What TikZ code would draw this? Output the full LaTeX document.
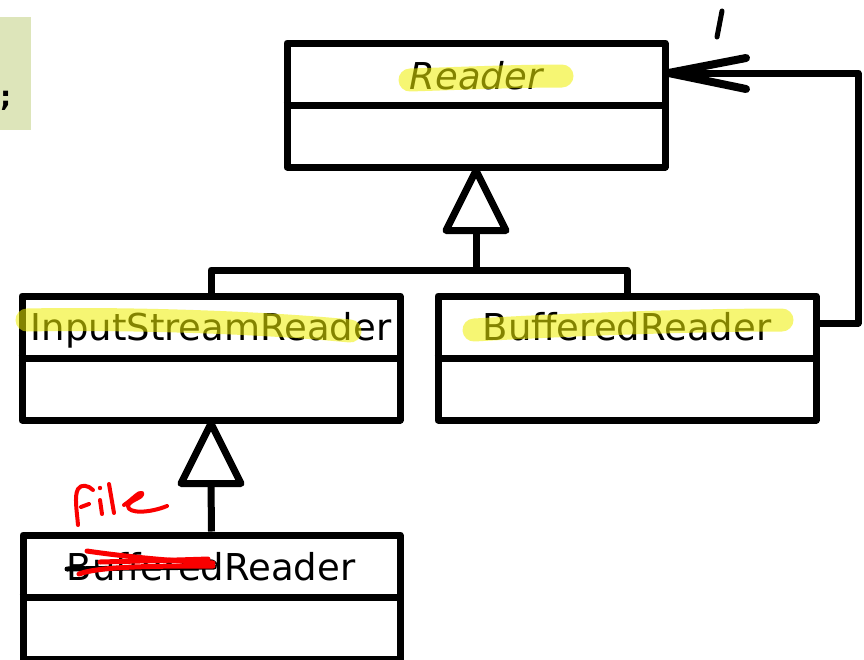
\documentclass[tikz,border=0pt]{standalone}
\usepackage{fontspec}
\setmainfont{DejaVu Sans}
\usetikzlibrary{calc}
\definecolor{hlyellow}{RGB}{240,240,0}
\definecolor{notegreen}{RGB}{221,229,186}
\definecolor{penred}{RGB}{250,0,0}
\begin{document}
\begin{tikzpicture}[x=1pt,y=-1pt,line join=round,
  classbox/.style={draw,line width=7pt,minimum width=378pt,minimum height=124pt,inner sep=0pt,fill=white},
  cname/.style={anchor=base,inner sep=0pt,font=\fontsize{37}{44}\selectfont},
  conn/.style={line width=7pt},
  hilite/.style={draw=hlyellow,draw opacity=0.55,line width=23pt,line cap=round},
  pen/.style={draw=penred,line width=4pt,line cap=round},
  scribble/.style={draw=penred,line width=5pt,line cap=round}]
\useasboundingbox (0,0) rectangle (864,659);
% note box at left
\fill[notegreen] (-10,17) rectangle (31,130);
\node[anchor=base west,inner sep=0pt,font=\fontsize{28}{32}\selectfont\bfseries] (semi) at (0,106) {;};
% classes
\node[classbox] (reader) at (476,105) {};
\node[classbox] (isr) at (211,358) {};
\node[classbox] (br) at (627,358) {};
\node[classbox,minimum width=377pt] (fr) at (211.5,597) {};
\draw[conn] (reader.west) -- (reader.east);
\draw[conn] (isr.west) -- (isr.east);
\draw[conn] (br.west) -- (br.east);
\draw[conn] (fr.west) -- (fr.east);
\node[cname,font=\fontsize{37}{44}\selectfont\itshape] (readert) at (476,89) {Reader};
\node[cname] (isrt) at (211,340) {InputStreamReader};
\node[cname] (brt) at (627,340) {BufferedReader};
\node[cname] (frt) at (211,580) {BufferedReader};
% inheritance to Reader
\coordinate (t1) at ($(reader.south)+(0,60)$);
\coordinate (j1) at (476,270);
\draw[conn,fill=white] (reader.south) -- ($(t1)+(30,0)$) -- ($(t1)+(-30,0)$) -- cycle;
\draw[conn] (t1) -- (j1);
\draw[conn] (isr.north) |- (j1) -| (br.north);
% inheritance to InputStreamReader
\coordinate (t2) at ($(isr.south)+(0,60)$);
\draw[conn,fill=white] (isr.south) -- ($(t2)+(30,0)$) -- ($(t2)+(-30,0)$) -- cycle;
\draw[conn] (t2) -- (fr.north);
% association BufferedReader -> Reader
\coordinate (a1) at (858,323);
\coordinate (a2) at (858,73);
\draw[conn] (br.east |- a1) -- (a1) -- (a2) -- (reader.east |- a2);
\coordinate (h1) at (746,58);
\coordinate (h2) at (746,89);
\draw[line width=8pt,line cap=round] (h1) -- (reader.east |- a2) -- (h2);
\coordinate (m1) at (722,11);
\coordinate (m2) at (717,37);
\draw[line width=5pt,line cap=round] (m1) -- (m2);
% highlighter strokes
\draw[hilite] (410,80) .. controls (470,78) and (520,76) .. (562,76);
\draw[hilite] (27,320) .. controls (120,318) and (260,322) .. (350,331);
\draw[hilite] (474,330) .. controls (580,324) and (700,320) .. (782,320);
% strike-through of "Buffered"
\draw[line width=5pt,line cap=round] (67,569) -- (214,567);
\draw[scribble] (87,551) .. controls (120,556) and (170,561) .. (213,563);
\draw[scribble] (100,562) .. controls (140,561) and (180,560) .. (208,559);
\draw[scribble] (79,574) .. controls (100,566) and (160,566) .. (213,566);
% handwritten "File"
\draw[pen] (78,525) .. controls (77,512) and (74,496) .. (78,489) .. controls (81,484) and (88,485) .. (93,490);
\draw[pen] (81,507) -- (89,504);
\draw[pen] (100,500) -- (102,514);
\fill[penred] (100,488) circle (2.2pt);
\draw[pen] (109,484) -- (114,513);
\draw[pen] (124,505) .. controls (132,500) and (139,491) .. (142,493) .. controls (144,498) and (129,500) .. (128,506) .. controls (128,514) and (150,513) .. (167,506);
\end{tikzpicture}
\end{document}
